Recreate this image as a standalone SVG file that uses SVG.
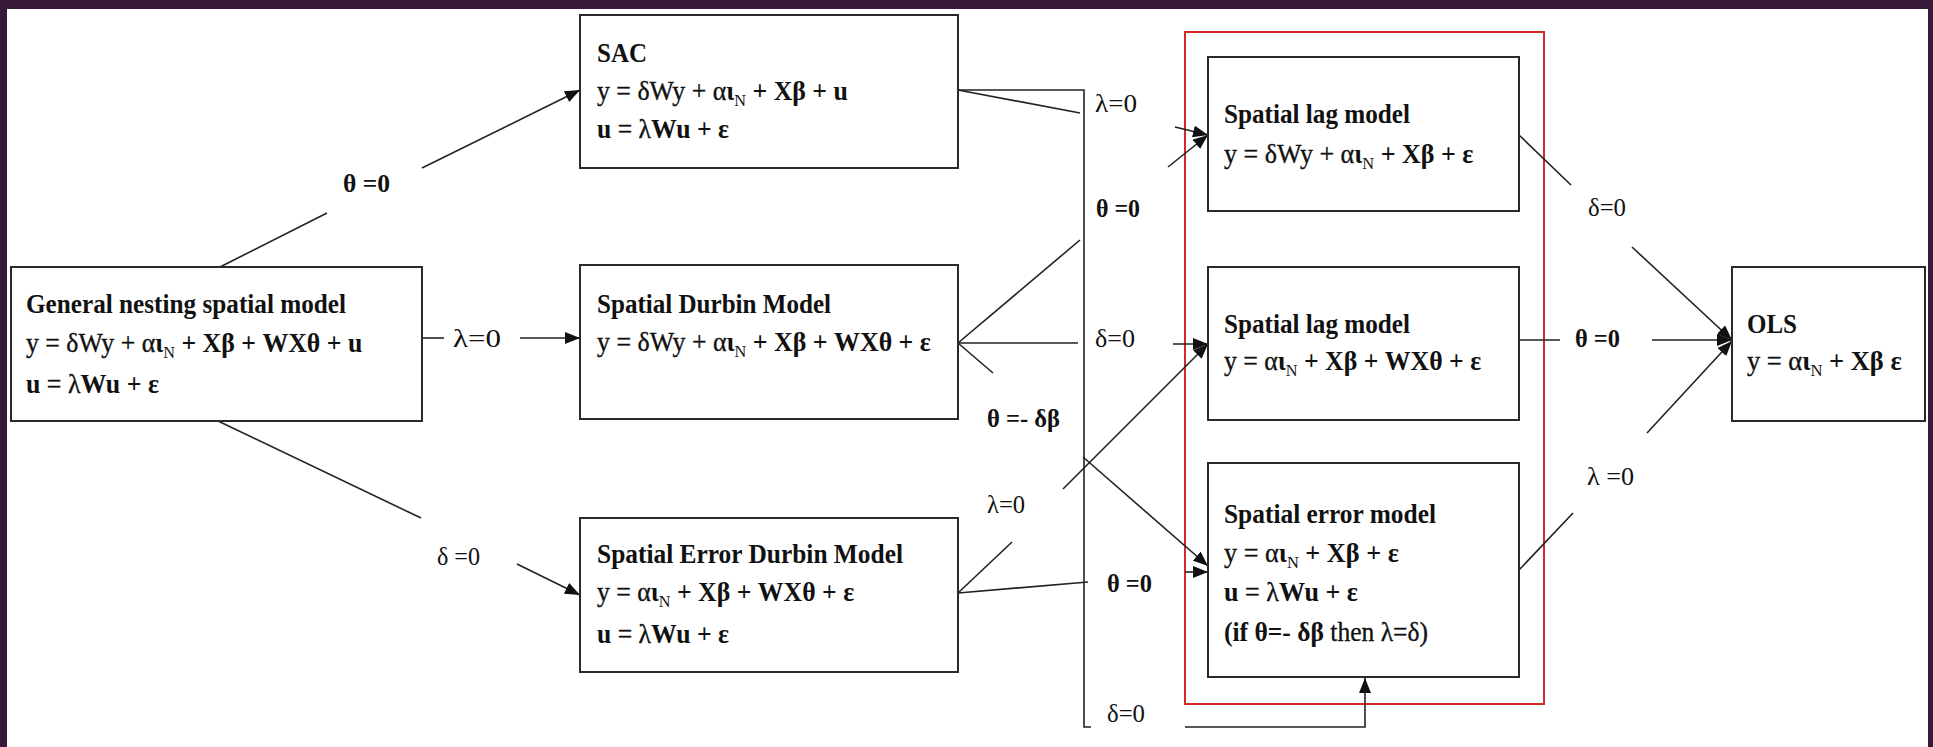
<svg xmlns="http://www.w3.org/2000/svg" width="1933" height="747" viewBox="0 0 1933 747">
<defs>
<marker id="ah" markerUnits="userSpaceOnUse" markerWidth="16" markerHeight="12" refX="15" refY="6" orient="auto">
<path d="M0,0 L15,6 L0,12 z" fill="#111"/>
</marker>
<style>
.bg{fill:#37193a}
.box{fill:#fff;stroke:#2a2a2a;stroke-width:2}
.red{fill:none;stroke:#d42a2a;stroke-width:2}
.ln{fill:none;stroke:#222;stroke-width:1.6}
.arr{fill:none;stroke:#222;stroke-width:1.6;marker-end:url(#ah)}
text{font-family:"Liberation Serif","Times New Roman",serif;font-size:27px;font-weight:bold;fill:#111}
.r{font-weight:normal;stroke:#111;stroke-width:0.35}
.sub{font-size:17px;font-weight:normal}
.lbl{font-size:26px;font-weight:normal}
.lblb{font-size:26px;font-weight:bold}
</style>
</defs>
<rect class="bg" x="0" y="0" width="1933" height="747"/>
<rect x="7" y="9" width="1921" height="738" fill="#fff"/>

<rect class="red" x="1185" y="32" width="359" height="672"/>

<g id="connectors">
<line class="ln" x1="220" y1="267" x2="327" y2="213"/>
<line class="arr" x1="422" y1="168" x2="580" y2="90"/>
<line class="ln" x1="422" y1="338" x2="444" y2="338"/>
<line class="arr" x1="520" y1="338" x2="580" y2="338"/>
<line class="ln" x1="218" y1="421" x2="421" y2="518"/>
<line class="arr" x1="517" y1="564" x2="580" y2="595"/>
<line class="ln" x1="958" y1="90" x2="1080" y2="113"/>
<line class="arr" x1="1175" y1="127" x2="1208" y2="135"/>
<polyline class="ln" points="958,90 1084,90 1084,727 1091,727"/>
<polyline class="arr" points="1185,727 1365,727 1365,678"/>
<line class="ln" x1="958" y1="343" x2="1080" y2="240"/>
<line class="arr" x1="1168" y1="167" x2="1208" y2="135"/>
<line class="ln" x1="958" y1="343" x2="1078" y2="343"/>
<line class="arr" x1="1173" y1="344" x2="1208" y2="344"/>
<line class="ln" x1="958" y1="343" x2="993" y2="373"/>
<line class="arr" x1="1083" y1="457" x2="1208" y2="566"/>
<line class="ln" x1="958" y1="593" x2="1012" y2="542"/>
<line class="arr" x1="1063" y1="489" x2="1208" y2="344"/>
<line class="ln" x1="958" y1="593" x2="1088" y2="582"/>
<line class="arr" x1="1185" y1="572" x2="1208" y2="572"/>
<line class="ln" x1="1519" y1="135" x2="1571" y2="185"/>
<line class="arr" x1="1632" y1="247" x2="1732" y2="340"/>
<line class="ln" x1="1519" y1="340" x2="1560" y2="340"/>
<line class="arr" x1="1652" y1="340" x2="1732" y2="340"/>
<line class="ln" x1="1519" y1="570" x2="1573" y2="513"/>
<line class="arr" x1="1647" y1="433" x2="1732" y2="341"/>
</g>

<g id="labels">
<text class="lblb" x="343" y="192" textLength="47" lengthAdjust="spacingAndGlyphs">θ =0</text>
<text class="lbl" x="453" y="347" textLength="48" lengthAdjust="spacingAndGlyphs">λ=0</text>
<text class="lbl" x="437" y="565" textLength="43" lengthAdjust="spacingAndGlyphs">δ =0</text>
<text class="lbl" x="1095" y="112" textLength="42" lengthAdjust="spacingAndGlyphs">λ=0</text>
<text class="lblb" x="1096" y="217" textLength="44" lengthAdjust="spacingAndGlyphs">θ =0</text>
<text class="lbl" x="1095" y="347" textLength="40" lengthAdjust="spacingAndGlyphs">δ=0</text>
<text class="lblb" x="987" y="427" textLength="73" lengthAdjust="spacingAndGlyphs">θ =- δβ</text>
<text class="lbl" x="987" y="513" textLength="38" lengthAdjust="spacingAndGlyphs">λ=0</text>
<text class="lblb" x="1107" y="592" textLength="45" lengthAdjust="spacingAndGlyphs">θ =0</text>
<text class="lbl" x="1107" y="722" textLength="38" lengthAdjust="spacingAndGlyphs">δ=0</text>
<text class="lbl" x="1588" y="216" textLength="38" lengthAdjust="spacingAndGlyphs">δ=0</text>
<text class="lblb" x="1575" y="347" textLength="45" lengthAdjust="spacingAndGlyphs">θ =0</text>
<text class="lbl" x="1587" y="485" textLength="47" lengthAdjust="spacingAndGlyphs">λ =0</text>
</g>

<g id="gnsm">
<rect class="box" x="11" y="267" width="411" height="154"/>
<text x="26" y="313" textLength="320" lengthAdjust="spacingAndGlyphs">General nesting spatial model</text>
<text transform="translate(26,352) scale(0.956,1)"><tspan class="r">y = δWy + α</tspan>ι<tspan class="sub" dy="6">N</tspan><tspan dy="-6"> + Xβ + WXθ + u</tspan></text>
<text x="26" y="393" textLength="133" lengthAdjust="spacingAndGlyphs">u<tspan class="r"> = λ</tspan>Wu + ε</text>
</g>

<g id="sac">
<rect class="box" x="580" y="15" width="378" height="153"/>
<text x="597" y="62" textLength="50" lengthAdjust="spacingAndGlyphs">SAC</text>
<text transform="translate(597,100) scale(0.957,1)"><tspan class="r">y = δWy + α</tspan>ι<tspan class="sub" dy="6">N</tspan><tspan dy="-6"> + Xβ + u</tspan></text>
<text x="597" y="138" textLength="132" lengthAdjust="spacingAndGlyphs">u<tspan class="r"> = λ</tspan>Wu + ε</text>
</g>

<g id="sdm">
<rect class="box" x="580" y="265" width="378" height="154"/>
<text x="597" y="313" textLength="234" lengthAdjust="spacingAndGlyphs">Spatial Durbin Model</text>
<text transform="translate(597,351) scale(0.959,1)"><tspan class="r">y = δWy + α</tspan>ι<tspan class="sub" dy="6">N</tspan><tspan dy="-6"> + Xβ + WXθ + ε</tspan></text>
</g>

<g id="sedm">
<rect class="box" x="580" y="518" width="378" height="154"/>
<text x="597" y="563" textLength="306" lengthAdjust="spacingAndGlyphs">Spatial Error Durbin Model</text>
<text transform="translate(597,601) scale(0.955,1)"><tspan class="r">y = α</tspan>ι<tspan class="sub" dy="6">N</tspan><tspan dy="-6"> + Xβ + WXθ + ε</tspan></text>
<text x="597" y="643" textLength="132" lengthAdjust="spacingAndGlyphs">u<tspan class="r"> = λ</tspan>Wu + ε</text>
</g>

<g id="lag1">
<rect class="box" x="1208" y="57" width="311" height="154"/>
<text x="1224" y="123" textLength="186" lengthAdjust="spacingAndGlyphs">Spatial lag model</text>
<text transform="translate(1224,163) scale(0.964,1)"><tspan class="r">y = δWy + α</tspan>ι<tspan class="sub" dy="6">N</tspan><tspan dy="-6"> + Xβ + ε</tspan></text>
</g>

<g id="lag2">
<rect class="box" x="1208" y="267" width="311" height="153"/>
<text x="1224" y="333" textLength="186" lengthAdjust="spacingAndGlyphs">Spatial lag model</text>
<text transform="translate(1224,370) scale(0.955,1)"><tspan class="r">y = α</tspan>ι<tspan class="sub" dy="6">N</tspan><tspan dy="-6"> + Xβ + WXθ + ε</tspan></text>
</g>

<g id="sem">
<rect class="box" x="1208" y="463" width="311" height="214"/>
<text x="1224" y="523" textLength="212" lengthAdjust="spacingAndGlyphs">Spatial error model</text>
<text transform="translate(1224,562) scale(0.971,1)"><tspan class="r">y = α</tspan>ι<tspan class="sub" dy="6">N</tspan><tspan dy="-6"> + Xβ + ε</tspan></text>
<text x="1224" y="601" textLength="134" lengthAdjust="spacingAndGlyphs">u<tspan class="r"> = λ</tspan>Wu + ε</text>
<text x="1224" y="641" textLength="204" lengthAdjust="spacingAndGlyphs">(if θ=- δβ<tspan class="r"> then λ=δ)</tspan></text>
</g>

<g id="ols">
<rect class="box" x="1732" y="267" width="193" height="154"/>
<text x="1747" y="333" textLength="50" lengthAdjust="spacingAndGlyphs">OLS</text>
<text transform="translate(1747,370) scale(0.98,1)"><tspan class="r">y = α</tspan>ι<tspan class="sub" dy="6">N</tspan><tspan dy="-6"> + Xβ ε</tspan></text>
</g>
</svg>
